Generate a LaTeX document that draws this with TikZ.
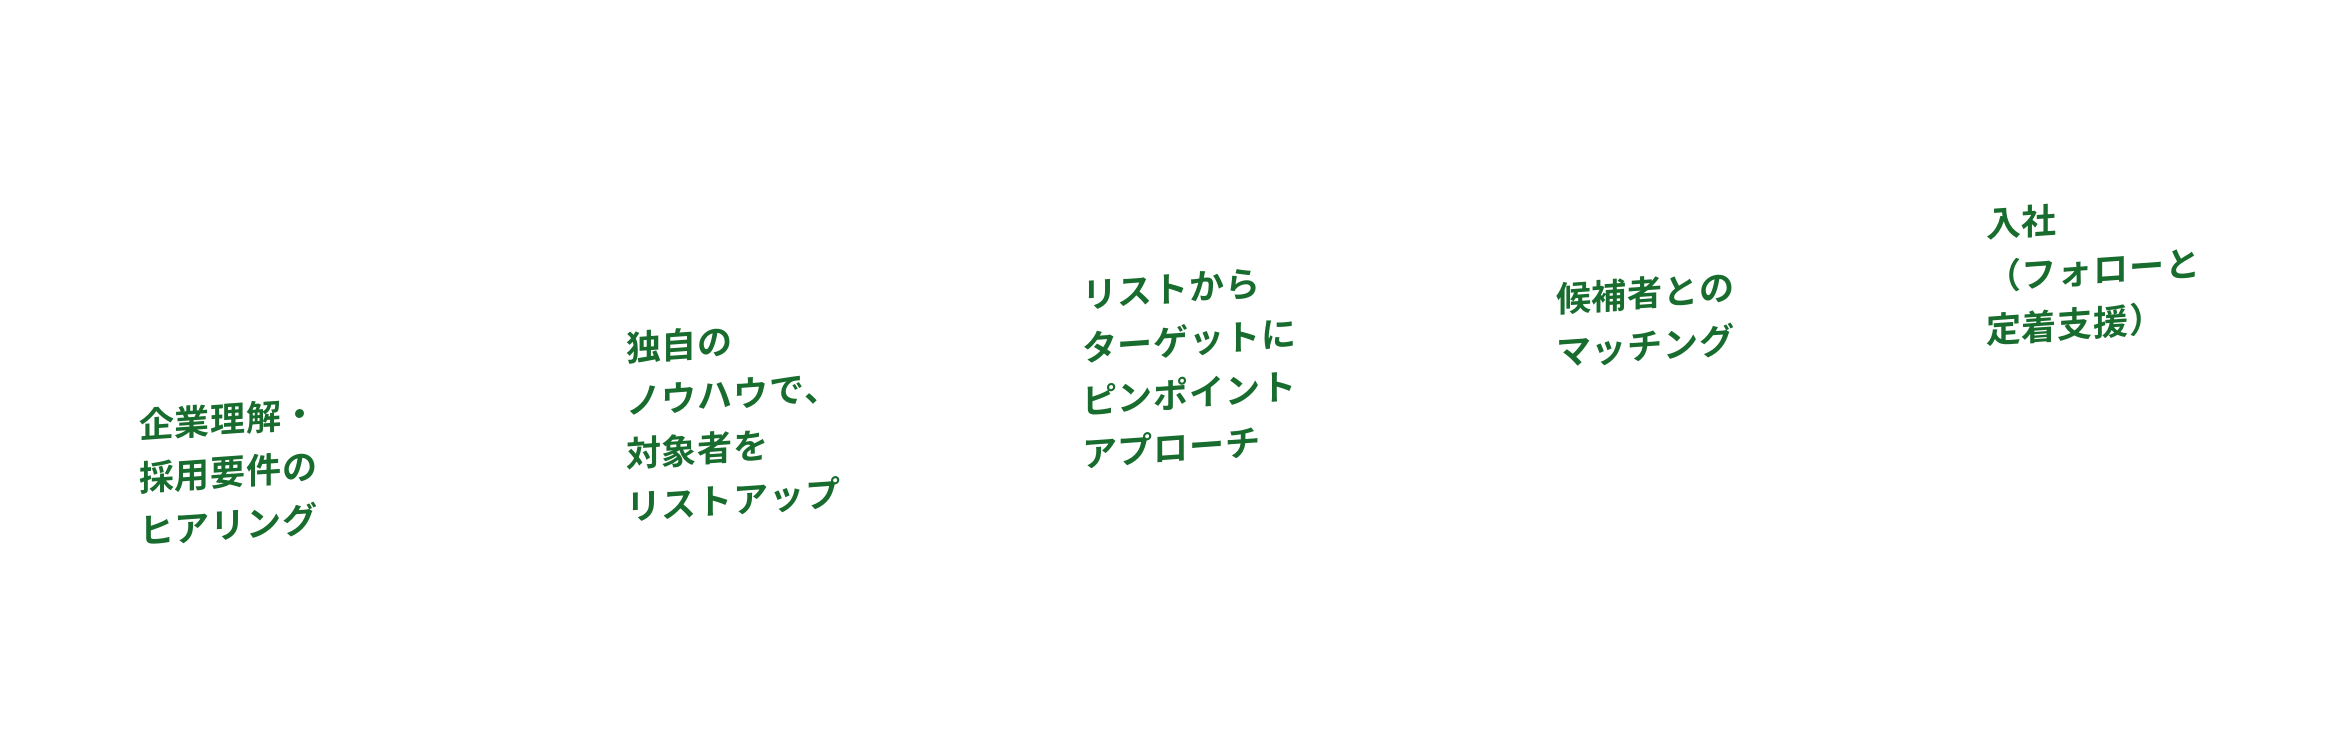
\documentclass[tikz,border=0pt]{standalone}
\usepackage{fontspec}
\usepackage{tikz}
\newfontfamily\jpfont{Noto Sans CJK JP Bold}[LetterSpace=2.5]
\definecolor{leafgreen}{RGB}{23,108,46}
\tikzstyle{phase} = [
    text=leafgreen, inner sep=0pt, outer sep=0pt,
    anchor=north west, yslant=0.07, align=left,
    font=\jpfont\fontsize{17.5pt}{26.5pt}\selectfont % 1px = 0.5pt
]

\begin{document}
\begin{tikzpicture}[x=0.5pt, y=-0.5pt]
        % Page frame (pixel grid)
        \useasboundingbox (0,0) rectangle (2346,741);

        % Steps, left to right
        \node[phase] (hearing) at (139,409) {企業理解・\\採用要件の\\ヒアリング};
        \node[phase] (listup) at (626,332) {独自の\\ノウハウで、\\対象者を\\リストアップ};
        \node[phase] (approach) at (1082,280) {リストから\\ターゲットに\\ピンポイント\\アプローチ};
        \node[phase] (matching) at (1556,283) {候補者との\\マッチング};
        \node[phase] (onboard) at (1986,208) {入社\\（フォローと\\定着支援）};

    \end{tikzpicture}
\end{document}
